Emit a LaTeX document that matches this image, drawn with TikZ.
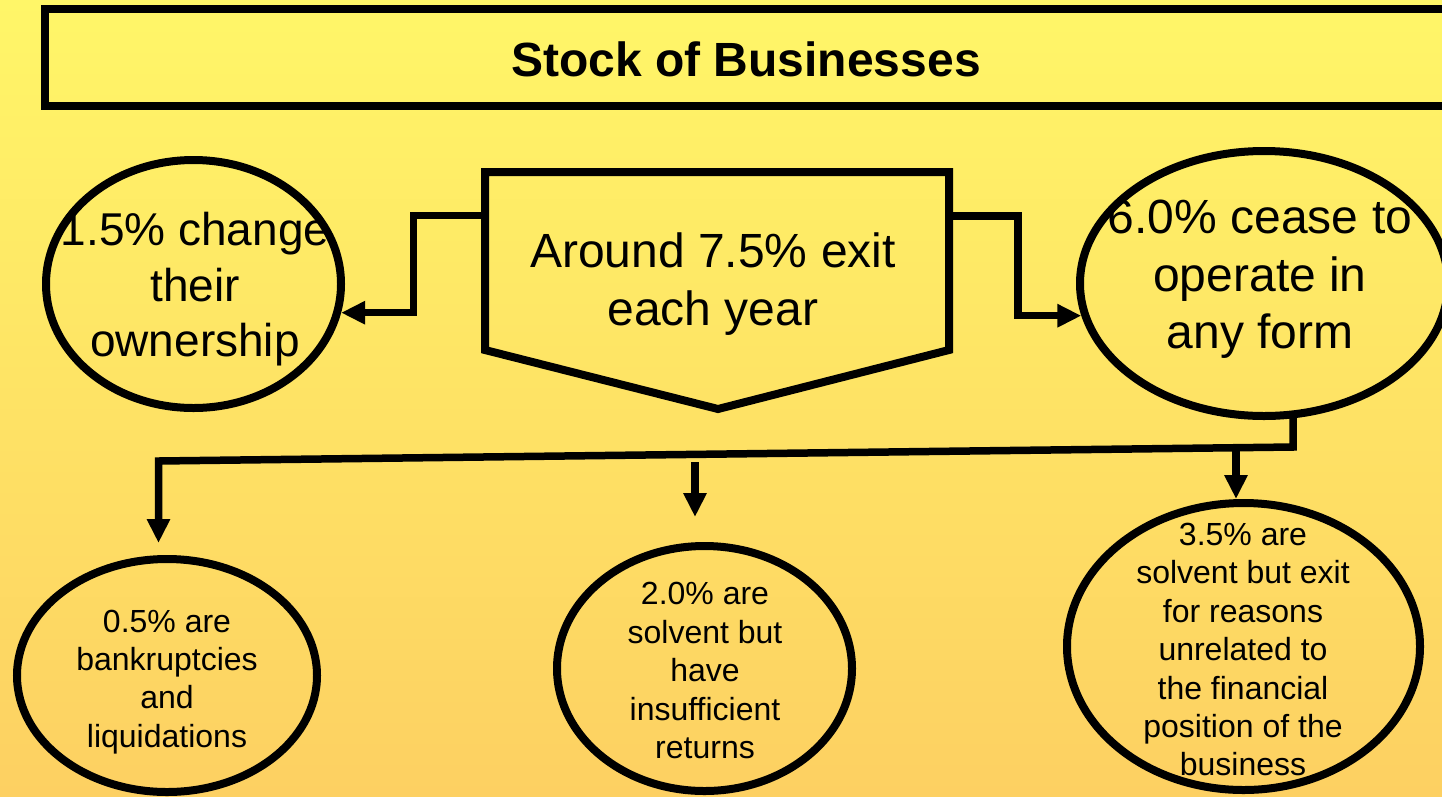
\documentclass[tikz,border=0pt]{standalone}
\usepackage{fontspec}
\setmainfont{Liberation Sans}
\usetikzlibrary{shapes.geometric,arrows.meta}
\definecolor{bgtop}{RGB}{255,246,104}
\definecolor{bgbot}{RGB}{253,208,98}
\begin{document}
\begin{tikzpicture}[x=1pt,y=-1pt,
  shapeline/.style={draw=black,line width=8pt},
  ell/.style={shapeline,ellipse,inner sep=0pt},
  conn/.style={draw=black,line width=7.5pt,line join=miter,-{Triangle[length=24pt,width=22pt]}},
  bigtxt/.style={inner sep=0pt,align=center,font=\fontsize{48}{57.6}\selectfont},
  midtxt/.style={inner sep=0pt,align=center,font=\fontsize{46}{55.2}\selectfont},
  smalltxt/.style={inner sep=0pt,align=center,font=\fontsize{32}{38.4}\selectfont}]

\useasboundingbox (0,0) rectangle (1442,796);
\shade[top color=bgtop,bottom color=bgbot] (0,0) rectangle (1442,796);

% title
\draw[shapeline] (45,9) rectangle (1460,106);
\node[inner sep=0pt,anchor=base,font=\bfseries\fontsize{48}{57.6}\selectfont] (title) at (746,76) {Stock of Businesses};

% pentagon
\draw[shapeline,line join=miter] (485,172) -- (949,172) -- (949,350) -- (718,409) -- (485,350) -- cycle;
\node[bigtxt] (exit) at (713,285) {\strut Around 7.5\% exit\\\strut each year};
\coordinate (pL) at (485,215.5);
\coordinate (pR) at (949,216);

% upper ellipses
\node[ell,minimum width=295pt,minimum height=248pt] (own) at (193.5,284) {};
\node[midtxt] (ownT) at (195,290) {\strut 1.5\% change\\\strut their\\\strut ownership};

\node[ell,minimum width=368pt,minimum height=265pt] (cease) at (1264,283.5) {};
\node[bigtxt] (ceaseT) at (1260,279.5) {\strut 6.0\% cease to\\\strut operate in\\\strut any form};

% lower circles
\node[ell,minimum width=300pt,minimum height=233pt] (bank) at (167,675.5) {};
\node[smalltxt] (bankT) at (167,682) {\strut 0.5\% are\\\strut bankruptcies\\\strut and\\\strut liquidations};

\node[ell,minimum width=295pt,minimum height=245pt] (solv) at (704.5,668.5) {};
\node[smalltxt] (solvT) at (705,674) {\strut 2.0\% are\\\strut solvent but\\\strut have\\\strut insufficient\\\strut returns};

\node[ell,minimum width=353pt,minimum height=287pt] (bus) at (1243.5,646.5) {};
\node[smalltxt] (busT) at (1243,653) {\strut 3.5\% are\\\strut solvent but exit\\\strut for reasons\\\strut unrelated to\\\strut the financial\\\strut position of the\\\strut business};

% connectors
\draw[conn] (pL) -- (413.5,215.5) |- (own.-11);
\draw[conn] (pR) -- (1018,216) |- (cease.190);

\coordinate (jK) at (1293,447);
\coordinate (jL) at (158.5,461);
\coordinate (jM) at (695,462);
\coordinate (jR) at (1236,447.7);
\draw[conn] ([yshift=4pt]jK |- cease.south) -- (jK) -- (jL) -- ([yshift=12pt]jL |- bank.north);
\draw[conn] (jM) -- ([yshift=25pt]jM |- solv.north);
\draw[conn] (jR) -- (jR |- bus.north);
\end{tikzpicture}
\end{document}
